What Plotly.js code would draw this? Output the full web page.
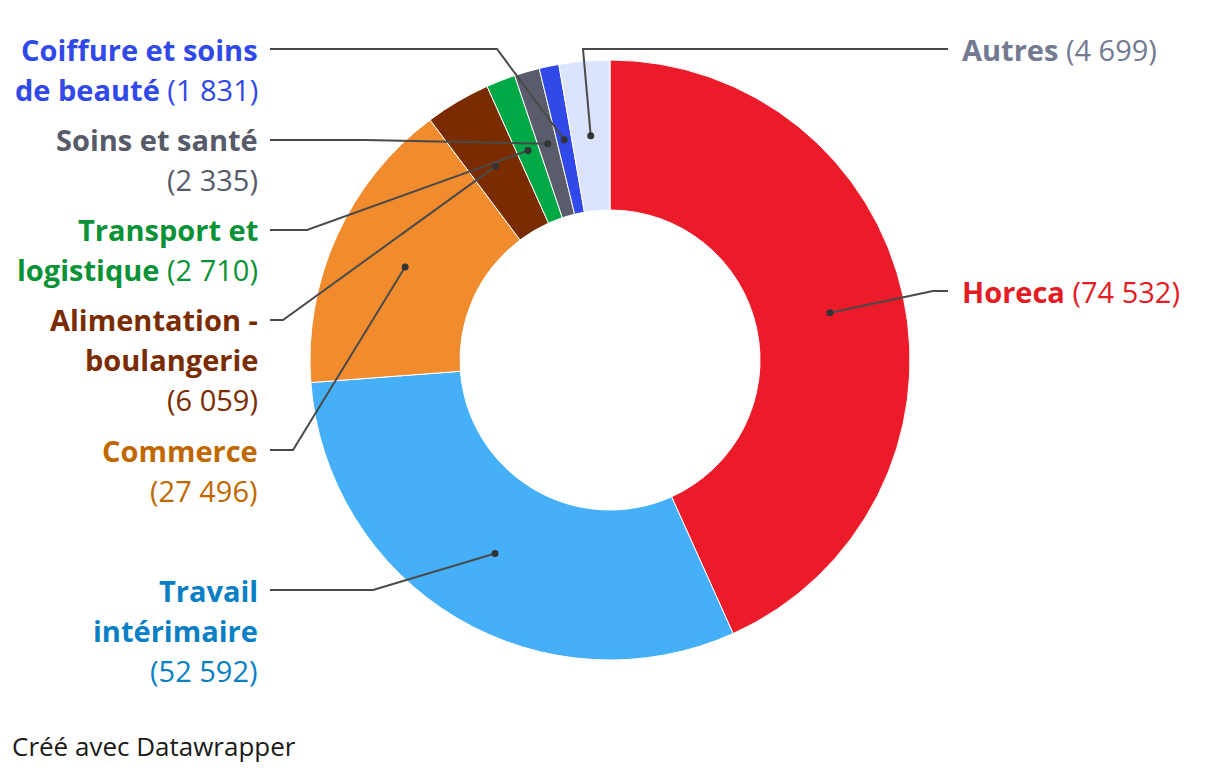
<!DOCTYPE html>
<html>
<head>
<meta charset="utf-8">
<script src="https://cdn.plot.ly/plotly-3.0.1.min.js"></script>
<style>html,body{margin:0;padding:0;background:#fff;}#chart{width:1220px;height:774px;}</style>
</head>
<body>
<div id="chart"></div>
<script>
// ---- data ----
const categories = ["Horeca", "Travail intérimaire", "Commerce", "Alimentation - boulangerie", "Transport et logistique", "Soins et santé", "Coiffure et soins de beauté", "Autres"];
const values = [74532, 52592, 27496, 6059, 2710, 2335, 1831, 4699];
const valueLabels = ["74 532", "52 592", "27 496", "6 059", "2 710", "2 335", "1 831", "4 699"];
const sliceColors = ["#ec1b2a", "#45b0f8", "#f08b2e", "#7a2c00", "#00a846", "#5a5c6b", "#3049e8", "#dbe4fc"];
const textColors = ["#e41b23", "#0a7fc5", "#c06800", "#7a2c00", "#0a9236", "#575a68", "#3049e8", "#737a91"];

// ---- layout geometry (pixels) ----
const W = 1220, H = 774;
const CX = 610, CY = 360, R = 300, HOLE = 0.5;
const FONT = "'Open Sans', Lato, sans-serif";
const FS = 29;
const px = x => x / W;
const py = y => 1 - y / H;

const labelSpec = [
  {side: "right", x: 960, lines: [["<b>Horeca</b> (" + valueLabels[0] + ")", 291]], elbow: [933, 291], end: [948, 291]},
  {side: "left", x: 260, lines: [["<b>Travail</b>", 590], ["<b>intérimaire</b>", 630], ["(" + valueLabels[1] + ")", 670]], elbow: [373, 590], end: [270, 590]},
  {side: "left", x: 260, lines: [["<b>Commerce</b>", 450], ["(" + valueLabels[2] + ")", 490]], elbow: [293, 450], end: [270, 450]},
  {side: "left", x: 260, lines: [["<b>Alimentation -</b>", 320], ["<b>boulangerie</b>", 360], ["(" + valueLabels[3] + ")", 400]], elbow: [283, 320], end: [270, 320]},
  {side: "left", x: 260, lines: [["<b>Transport et</b>", 230], ["<b>logistique</b> (" + valueLabels[4] + ")", 270]], elbow: [307, 230], end: [270, 230]},
  {side: "left", x: 260, lines: [["<b>Soins et santé</b>", 140], ["(" + valueLabels[5] + ")", 180]], elbow: [365, 140], end: [270, 140]},
  {side: "left", x: 260, lines: [["<b>Coiffure et soins</b>", 49], ["<b>de beauté</b> (" + valueLabels[6] + ")", 89]], elbow: [497, 49], end: [270, 49]},
  {side: "right", x: 960, lines: [["<b>Autres</b> (" + valueLabels[7] + ")", 49]], elbow: [583, 49], end: [948, 49]}
];

// ---- anchor dots from data ----
const total = values.reduce((a, b) => a + b, 0);
let cum = 0;
const anchors = values.map(v => {
  const mid = (cum + v / 2) / total * 2 * Math.PI;
  cum += v;
  const rr = R * (1 + HOLE) / 2;
  return [CX + rr * Math.sin(mid), CY - rr * Math.cos(mid)];
});

const shapes = [];
const annotations = [];
labelSpec.forEach((s, i) => {
  const a = anchors[i];
  shapes.push({type: "path", xref: "paper", yref: "paper",
    path: "M" + px(a[0]) + "," + py(a[1]) + " L" + px(s.elbow[0]) + "," + py(s.elbow[1]) + " L" + px(s.end[0]) + "," + py(s.end[1]),
    line: {color: "#4a4a4a", width: 2}});
  const d = 3.5;
  shapes.push({type: "circle", xref: "paper", yref: "paper",
    x0: px(a[0] - d), x1: px(a[0] + d), y0: py(a[1] - d), y1: py(a[1] + d),
    fillcolor: "#333", line: {color: "#333", width: 0}});
  s.lines.forEach(l => {
    annotations.push({xref: "paper", yref: "paper", x: px(s.x), y: py(l[1]),
      xanchor: s.side === "left" ? "right" : "left", yanchor: "middle",
      align: s.side === "left" ? "right" : "left",
      text: l[0], showarrow: false,
      font: {family: FONT, size: FS, color: textColors[i]}});
  });
});
annotations.push({xref: "paper", yref: "paper", x: px(10), y: py(746), xanchor: "left", yanchor: "middle",
  text: "Créé avec Datawrapper", showarrow: false, font: {family: FONT, size: 26, color: "#1a1a1a"}});

const trace = {
  type: "pie",
  labels: categories,
  values: values,
  sort: false,
  direction: "clockwise",
  rotation: 0,
  hole: HOLE,
  textinfo: "none",
  hoverinfo: "none",
  marker: {colors: sliceColors, line: {color: "#ffffff", width: 1}},
  domain: {x: [px(CX - R), px(CX + R)], y: [py(CY + R), py(CY - R)]}
};

Plotly.newPlot("chart", [trace], {
  width: W, height: H,
  margin: {l: 0, r: 0, t: 0, b: 0},
  paper_bgcolor: "#fff",
  showlegend: false,
  shapes: shapes,
  annotations: annotations
}, {displayModeBar: false, staticPlot: true});
</script>
</body>
</html>
